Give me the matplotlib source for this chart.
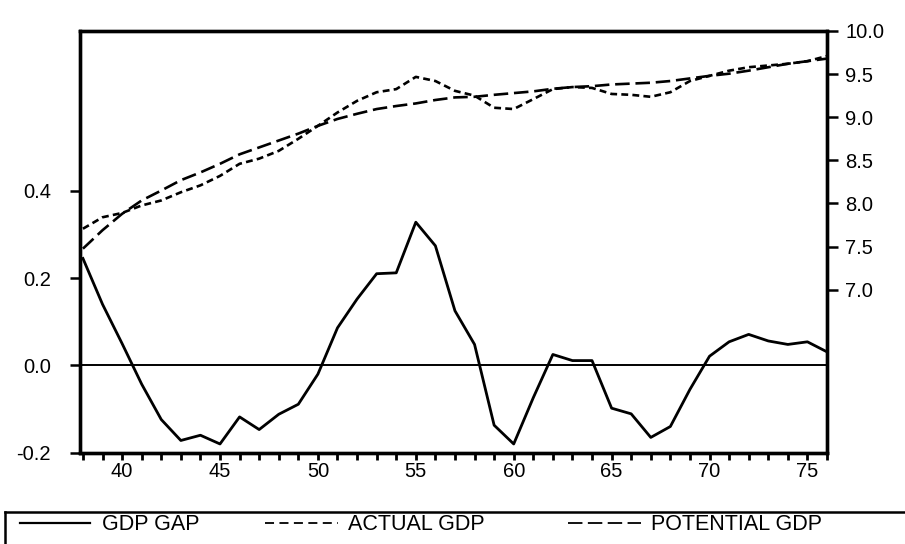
import matplotlib.pyplot as plt
from matplotlib.lines import Line2D

plt.rcParams['font.family'] = ['Liberation Sans', 'DejaVu Sans']
plt.rcParams['font.size'] = 14

years = list(range(38, 77))

gdp_gap = [0.245, 0.14, 0.05, -0.043, -0.124, -0.172, -0.16, -0.18, -0.118, -0.147,
           -0.112, -0.089, -0.02, 0.086, 0.152, 0.21, 0.212, 0.328, 0.274, 0.125,
           0.048, -0.137, -0.18, -0.074, 0.025, 0.011, 0.011, -0.098, -0.111, -0.165,
           -0.14, -0.055, 0.021, 0.054, 0.071, 0.056, 0.048, 0.054, 0.031]

actual_gdp = [7.707, 7.84, 7.89, 7.977, 8.035, 8.13, 8.21, 8.32, 8.46, 8.52,
              8.61, 8.75, 8.90, 9.055, 9.19, 9.29, 9.326, 9.468, 9.42, 9.306,
              9.25, 9.11, 9.095, 9.21, 9.326, 9.35, 9.34, 9.27, 9.26, 9.237,
              9.29, 9.42, 9.48, 9.54, 9.58, 9.60, 9.62, 9.65, 9.71]

potential_gdp = [7.476, 7.69, 7.88, 8.035, 8.15, 8.27, 8.36, 8.46, 8.57, 8.65,
                 8.73, 8.81, 8.90, 8.98, 9.04, 9.095, 9.13, 9.16, 9.20, 9.23,
                 9.237, 9.26, 9.28, 9.30, 9.33, 9.35, 9.36, 9.38, 9.39, 9.40,
                 9.42, 9.45, 9.48, 9.505, 9.54, 9.58, 9.62, 9.65, 9.68]

left_ticks = [-0.2, 0.0, 0.2, 0.4]
right_ticks = [7.0, 7.5, 8.0, 8.5, 9.0, 9.5, 10.0]

fig = plt.figure(figsize=(9.05, 5.44), dpi=100)
ax = fig.add_axes([80 / 905, 1 - 452.7 / 544, 747 / 905, (452.7 - 31) / 544])
ax2 = ax.twinx()

ax.plot(years, gdp_gap, color='black', lw=2.0)
ax.axhline(0, color='black', lw=1.4)
ax2.plot(years, actual_gdp, color='black', lw=1.9, dashes=(2.6, 1.6))
ax2.plot(years, potential_gdp, color='black', lw=1.9, dashes=(5.5, 2.2))

ax.set_xlim(37.85, 76)
ax.set_ylim(-0.2, 0.766)
ax2.set_ylim(5.11, 10.0)

ax.set_xticks(years)
ax.set_xticklabels([str(y) if y % 5 == 0 else '' for y in years])
ax.set_yticks(left_ticks)
ax.set_yticklabels(['%.1f' % t for t in left_ticks])
ax2.set_yticks(right_ticks)
ax2.set_yticklabels(['%.1f' % t for t in right_ticks])

ax.tick_params(axis='x', direction='out', length=5, width=2, pad=2, labelsize=14.5)
ax.tick_params(axis='y', direction='out', length=7, width=1.8, pad=14, labelsize=14.5)
ax2.tick_params(axis='y', direction='out', length=8, width=1.8, pad=5, labelsize=14.5)

for a in (ax, ax2):
    for s in a.spines.values():
        s.set_linewidth(2.4)

# legend box below the chart
fig.add_artist(Line2D([5 / 905, 1], [1 - 511.7 / 544] * 2, color='black', lw=1.8,
                      transform=fig.transFigure))
fig.add_artist(Line2D([5 / 905] * 2, [1 - 511.7 / 544, 0], color='black', lw=1.8,
                      transform=fig.transFigure))

ly = 1 - 523 / 544
fig.add_artist(Line2D([20 / 905, 90 / 905], [ly, ly], color='black', lw=1.6,
                      transform=fig.transFigure))
fig.add_artist(Line2D([265 / 905, 338 / 905], [ly, ly], color='black', lw=1.3,
                      dashes=(5, 3), transform=fig.transFigure))
fig.add_artist(Line2D([568 / 905, 641 / 905], [ly, ly], color='black', lw=1.3,
                      dashes=(8, 3), transform=fig.transFigure))
ty = 1 - 524 / 544
fig.text(102 / 905, ty, 'GDP GAP', va='center', ha='left', fontsize=15.5)
fig.text(348 / 905, ty, 'ACTUAL GDP', va='center', ha='left', fontsize=15.5)
fig.text(651 / 905, ty, 'POTENTIAL GDP', va='center', ha='left', fontsize=15.5)

fig.savefig('out.png', dpi=100)
